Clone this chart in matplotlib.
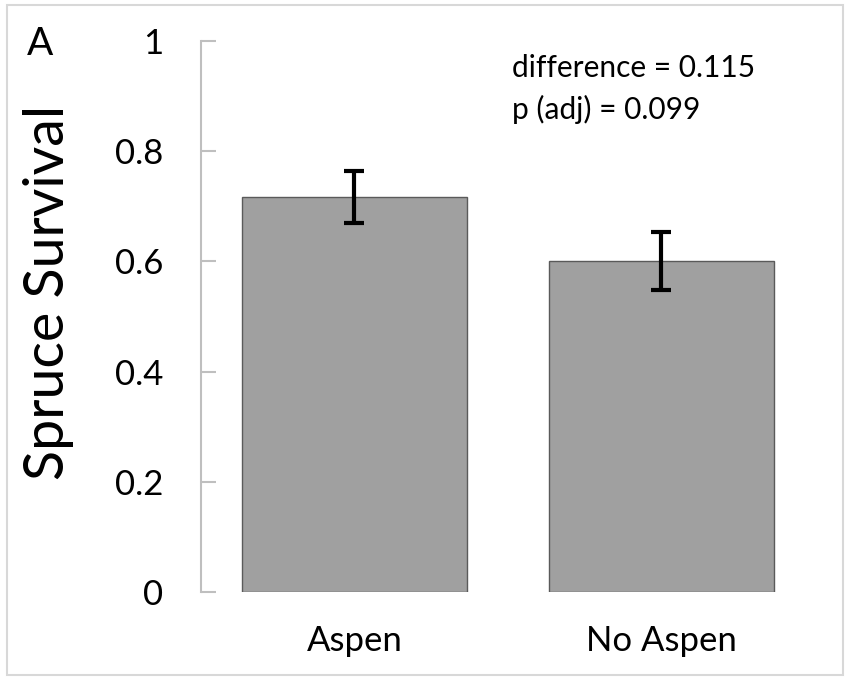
import matplotlib
matplotlib.use("Agg")
import matplotlib.pyplot as plt
from matplotlib.patches import Rectangle

categories = ["Aspen", "No Aspen"]
survival = [0.717, 0.601]
errors = [0.048, 0.052]
yticks = [0, 0.2, 0.4, 0.6, 0.8, 1]
ytick_labels = ["0", "0.2", "0.4", "0.6", "0.8", "1"]

plt.rcParams['font.family'] = ['Lato', 'DejaVu Sans']

fig = plt.figure(figsize=(8.46, 6.78), dpi=100)
fig.patches.append(Rectangle((0.008, 0.004), 0.988, 0.988, transform=fig.transFigure,
                             fill=False, edgecolor='#d8d8d8', linewidth=1.5))
ax = fig.add_axes([0.2376, 0.1268, 0.7254, 0.8127])

x = list(range(len(categories)))
ax.bar(x, survival, width=0.735, color='#a0a0a0', edgecolor='#5a5a5a', linewidth=1.0)
ax.errorbar(x, survival, yerr=errors, fmt='none', ecolor='black', elinewidth=3,
            capsize=7.5, capthick=3)

ax.set_xlim(-0.5, 1.5)
ax.set_ylim(0, 1)
ax.set_yticks(yticks)
ax.set_yticklabels(ytick_labels)
ax.set_xticks(x)
ax.set_xticklabels(categories)

for s in ['top', 'right', 'bottom']:
    ax.spines[s].set_visible(False)
ax.spines['left'].set_color('#bfbfbf')
ax.spines['left'].set_linewidth(1.5)
ax.tick_params(axis='y', direction='in', length=11, width=1.5, color='#bfbfbf',
               labelsize=25, pad=27)
ax.tick_params(axis='x', length=0, labelsize=25, pad=24)

ax.set_ylabel("Spruce Survival", fontsize=40)
ax.yaxis.set_label_coords(-0.248, 0.544)
ax.yaxis.label.set_va('center')

ax.text(0.506, 0.951, "difference = 0.115", transform=ax.transAxes, fontsize=21.5,
        ha='left', va='center')
ax.text(0.506, 0.875, "p (adj) = 0.099", transform=ax.transAxes, fontsize=21.5,
        ha='left', va='center')
fig.text(0.032, 0.935, "A", fontsize=28, ha='left', va='center')

fig.savefig("out.png", dpi=100)
